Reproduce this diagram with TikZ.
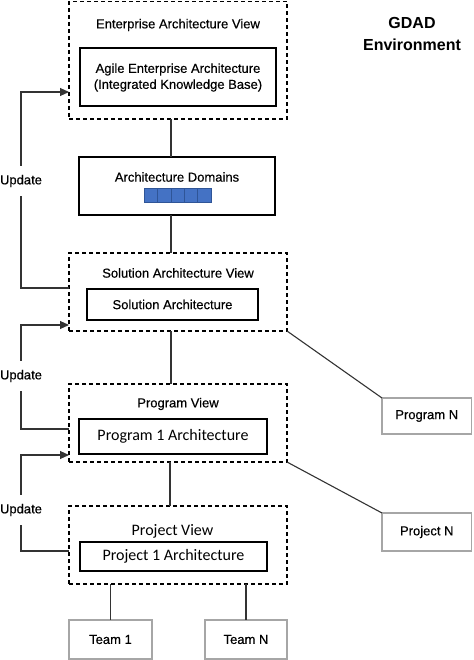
\documentclass[tikz,border=0pt]{standalone}
\usepackage{fontspec}
\setmainfont{Liberation Sans}[FakeBold=0.4]
\newfontfamily\calfont{Carlito}
\newfontfamily\boldsans{Liberation Sans Bold}
\usetikzlibrary{arrows.meta}
\definecolor{domblue}{HTML}{4472C4}
\definecolor{domedge}{HTML}{2F5597}
\definecolor{boxgray}{HTML}{A6A6A6}
\definecolor{linec}{HTML}{333333}
\begin{document}
\begin{tikzpicture}[x=1pt,y=-1pt,
  viewbox/.style={draw=black,line width=1.5pt,dash pattern=on 4pt off 3pt,inner sep=0pt,outer sep=0pt},
  innerbox/.style={draw=black,line width=1.6pt,inner sep=0pt,outer sep=0pt},
  graybox/.style={draw=boxgray,line width=1.5pt,inner sep=0pt,outer sep=0pt,font=\fontsize{13}{16}\selectfont},
  lbl/.style={font=\fontsize{13}{16}\selectfont,inner sep=0pt},
  cal/.style={font=\calfont\fontsize{16}{19}\selectfont,inner sep=0pt},
  conn/.style={draw=linec,line width=1.1pt},
  upd/.style={font=\fontsize{13}{16}\selectfont,inner xsep=0pt,inner ysep=9pt},
  arr/.style={conn,-{Triangle[length=9pt,width=8pt]}},
  sq/.style={fill=domblue,draw=domedge,line width=0.5pt,minimum width=13.4pt,minimum height=14pt,inner sep=0pt,outer sep=0pt}
]
\useasboundingbox (0,0) rectangle (473,660);

% view boxes
\node[viewbox,minimum width=218pt,minimum height=117.5pt] (ea) at (178,60.25) {};
\node[viewbox,minimum width=218pt,minimum height=78pt] (sol) at (178,292) {};
\node[viewbox,minimum width=218pt,minimum height=78pt] (prog) at (178,423) {};
\node[viewbox,minimum width=218pt,minimum height=78pt] (proj) at (178,545) {};

% titles
\node[lbl] (eat) at (178,25) {Enterprise Architecture View};
\node[lbl] (solt) at (178,273) {Solution Architecture View};
\node[lbl] (progt) at (178,404) {Program View};
\node[cal] (projt) at (172.5,531) {Project View};

% inner boxes
\node[innerbox,minimum width=196pt,minimum height=58pt] (eai) at (178,77) {};
\node[lbl,align=center,font=\fontsize{13}{16}\selectfont] (eaitxt) at (178,77.5) {Agile Enterprise Architecture\\(Integrated Knowledge Base)};
\node[innerbox,minimum width=196pt,minimum height=58pt] (dom) at (177,186) {};
\node[lbl] (domt) at (177,177) {Architecture Domains};
\foreach \i in {0,...,4} {
  \node[sq] (sq\i) at (144+6.7+13.4*\i,195) {};
}
\node[innerbox,minimum width=171pt,minimum height=31pt,font=\fontsize{13}{16}\selectfont] (soli) at (172.5,304.5) {Solution Architecture};
\node[innerbox,minimum width=188pt,minimum height=35pt,font=\calfont\fontsize{16}{19}\selectfont] (progi) at (173,436.5) {Program 1 Architecture};
\node[innerbox,minimum width=187pt,minimum height=29pt,font=\calfont\fontsize{16}{19}\selectfont] (proji) at (173.5,556.5) {Project 1 Architecture};

% gray boxes
\node[graybox,minimum width=89.5pt,minimum height=36pt] (progN) at (426.75,416) {Program N};
\node[graybox,minimum width=89.5pt,minimum height=38pt] (projN) at (426.75,532) {Project N};
\node[graybox,minimum width=83pt,minimum height=39pt] (team1) at (110.5,639.5) {Team 1};
\node[graybox,minimum width=82pt,minimum height=39pt] (teamN) at (246,639.5) {Team N};

% GDAD
\node[font=\boldsans\fontsize{16}{22}\selectfont,align=center,inner sep=0pt] (gdad) at (412,34) {GDAD\\Environment};

% vertical connectors
\coordinate (cx1) at (171,0);
\coordinate (cx2) at (170,0);
\draw[conn] (ea.south -| cx1) -- (dom.north -| cx1);
\draw[conn] (dom.south -| cx1) -- (sol.north -| cx1);
\draw[conn] (sol.south -| cx1) -- (prog.north -| cx1);
\draw[conn] (prog.south -| cx2) -- (proj.north -| cx2);
\draw[conn] (proj.south -| team1.north) -- (team1.north);
\draw[conn] (proj.south -| teamN.north) -- (teamN.north);

% diagonal connectors
\draw[conn] (sol.south east) -- (progN.north west);
\draw[conn] (prog.south east) -- (projN.north west);

% update loops
\node[upd] (u1) at (21,181) {Update};
\node[upd] (u2) at (21,376) {Update};
\node[upd] (u3) at (21,510) {Update};

\coordinate (a1) at (69,92);
\coordinate (r1) at (69,288);
\coordinate (a2) at (69,325);
\coordinate (r2) at (69,429);
\coordinate (a3) at (69,455);
\coordinate (r3) at (69,551);

\draw[arr] (u1.north) |- (a1);
\draw[conn] (u1.south) |- (r1);
\draw[arr] (u2.north) |- (a2);
\draw[conn] (u2.south) |- (r2);
\draw[arr] (u3.north) |- (a3);
\draw[conn] (u3.south) |- (r3);

\end{tikzpicture}
\end{document}
